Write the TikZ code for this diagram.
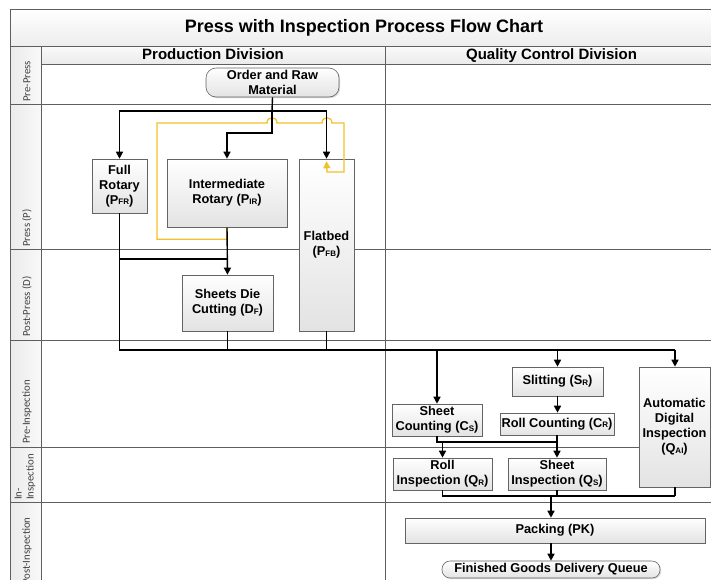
\documentclass[tikz,border=0pt]{standalone}
\usepackage{fontspec}
\setmainfont{Liberation Sans}
\newfontfamily\lanefont{Carlito}
\usetikzlibrary{arrows.meta,shadows}
\definecolor{lanegray}{RGB}{95,95,95}
\definecolor{yel}{RGB}{242,192,40}
\definecolor{boxedge}{RGB}{100,100,100}
\newcommand\sbx[1]{\raisebox{-0.6pt}{\fontsize{8}{8}\selectfont #1}}
\begin{document}
\begin{tikzpicture}[x=1pt,y=-1pt,
  box/.style={draw=boxedge, line width=0.6pt, top color=white, bottom color=gray!22,
    drop shadow={opacity=0.3,shadow xshift=1.2pt,shadow yshift=-1.2pt},
    align=center, inner sep=0pt, font=\bfseries\fontsize{12.8}{15}\selectfont},
  term/.style={box, rounded corners=10pt},
  lane/.style={draw=lanegray, line width=0.7pt},
  lanelabel/.style={rotate=90, anchor=west, font=\lanefont\fontsize{10.8}{11}\selectfont,
    text=black!75, inner sep=0pt, align=left},
  conn/.style={line width=1.4pt, black},
  arr/.style={conn, -{Triangle[width=7pt,length=7pt]}},
  yarr/.style={line width=1.3pt, yel, -{Triangle[width=7pt,length=7pt]}}]
\useasboundingbox (0,0) rectangle (711,579);
% backgrounds
\fill[top color=white, bottom color=gray!14] (10,9) rectangle (720,46);
\fill[top color=gray!4, bottom color=gray!16] (41,46) rectangle (720,64);
\fill[left color=gray!16, right color=gray!5] (10,46) rectangle (41,600);
% lanes
\draw[lane] (10,600) -- (10,9) -- (720,9);
\draw[lane] (10,46) -- (720,46);
\draw[lane] (41,64) -- (720,64);
\draw[lane] (41,46) -- (41,600);
\draw[lane] (385,46) -- (385,600);
\foreach \yy in {104,249,340,447,502} \draw[lane] (10,\yy) -- (720,\yy);
% titles
\node[anchor=base, font=\bfseries\fontsize{18}{20}\selectfont] (title) at (364,32.5) {Press with Inspection Process Flow Chart};
\node[anchor=base, font=\bfseries\fontsize{15}{17}\selectfont] (hprod) at (213,59.5) {Production Division};
\node[anchor=base, font=\bfseries\fontsize{15}{17}\selectfont] (hqc) at (551.5,59.5) {Quality Control Division};
% lane labels
\node[lanelabel] (l1) at (27,102) {Pre-Press};
\node[lanelabel] (l2) at (27,247) {Press (P)};
\node[lanelabel] (l3) at (27,337) {Post-Press (D)};
\node[lanelabel] (l4) at (27,444) {Pre-Inspection};
\node[lanelabel, font=\lanefont\fontsize{10.8}{12}\selectfont] (l5) at (25,500) {In-\\Inspection};
\node[lanelabel] (l6) at (27,585) {Post-Inspection};
% nodes
\node[term, minimum width=133, minimum height=29] (ord) at (272.5,82.5) {Order and Raw\\Material};
\node[box, minimum width=55, minimum height=54] (pfr) at (119.5,186) {Full\\Rotary\\(P\sbx{FR})};
\node[box, minimum width=120, minimum height=68] (pir) at (227,193) {Intermediate\\Rotary (P\sbx{IR})};
\node[box, minimum width=55, minimum height=172] (pfb) at (326.5,245) {Flatbed\\(P\sbx{FB})};
\node[box, minimum width=91, minimum height=56] (df) at (227.5,303) {Sheets Die\\Cutting (D\sbx{F})};
\node[box, minimum width=91, minimum height=29] (sl) at (557.5,381.5) {Slitting (S\sbx{R})};
\node[box, minimum width=90, minimum height=32] (sc) at (437,420) {Sheet\\Counting (C\sbx{S})};
\node[box, minimum width=114, minimum height=22] (rc) at (557,424) {Roll Counting (C\sbx{R})};
\node[box, minimum width=71, minimum height=120] (qai) at (674.5,427) {Automatic\\Digital\\Inspection\\(Q\sbx{AI})};
\node[box, minimum width=99, minimum height=32] (ri) at (442.5,474) {Roll\\Inspection (Q\sbx{R})};
\node[box, minimum width=98, minimum height=32] (si) at (557,474) {Sheet\\Inspection (Q\sbx{S})};
\node[box, minimum width=300, minimum height=25] (pk) at (555,530.5) {Packing (PK)};
\node[term, rounded corners=8pt, minimum width=218, minimum height=17] (fg) at (551,569.5) {Finished Goods Delivery Queue};
% junction coordinates
\coordinate (j1) at (272,111);
\coordinate (j2) at (227,259);
\coordinate (bus) at (675,350);
\coordinate (m1) at (557,442);
\coordinate (m2) at (675,496);
% yellow feedback loop
\draw[yarr] (pir.south) -- ++(0,12) -| (157,123) -- (267,123)
  .. controls (267,116) and (277,116) .. (277,123) -- (322,123)
  .. controls (322,116) and (332,116) .. (332,123) -- (344,123)
  |- (327,172) -- ([yshift=-2.5pt]pfb.north);
% press feeds
\draw[conn] (ord.south) -- (j1);
\draw[arr] (j1) -| (pfr.north);
\draw[arr] (j1) -| (pfb.north);
\draw[arr] (j1) -- (272,133) -| (pir.north);
% to die cutting
\draw[conn] (pfr.south) |- (j2);
\draw[arr] (pir.south) -- (df.north);
% bus
\draw[conn] (pfr.south) |- (bus);
\draw[conn] (df.south) -- (df.south |- bus);
\draw[conn] (pfb.south) -- (pfb.south |- bus);
\draw[arr] (sc.north |- bus) -- (sc.north);
\draw[arr] (sl.north |- bus) -- (sl.north);
\draw[arr] (bus) -- (qai.north -| bus);
% QC flow
\draw[arr] (sl.south) -- (rc.north -| sl.south);
\draw[conn] (sc.south) |- (m1);
\draw[conn] (rc.south) -- (m1);
\draw[arr] (ri.north |- m1) -- (ri.north);
\draw[arr] (m1) -- (si.north -| m1);
\draw[conn] (ri.south) |- (m2);
\draw[conn] (si.south) -- (si.south |- m2);
\draw[conn] (qai.south -| m2) -- (m2);
\draw[arr] (fg.north |- m2) -- (fg.north |- pk.north);
\draw[arr] (fg.north |- pk.south) -- (fg.north);
\end{tikzpicture}
\end{document}
